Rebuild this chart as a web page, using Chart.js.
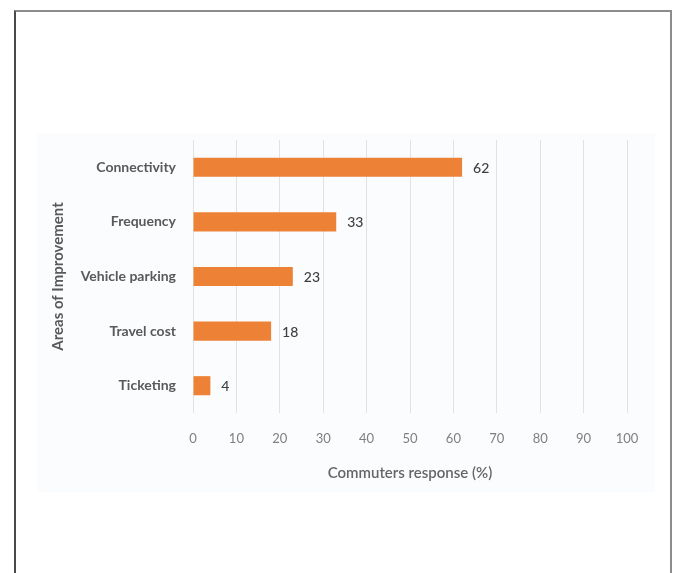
<!DOCTYPE html>
<html>
<head>
<meta charset="utf-8">
<script src="https://cdn.jsdelivr.net/npm/chart.js@4/dist/chart.umd.min.js"></script>
<style>
  html, body { margin: 0; padding: 0; background: #ffffff; }
  body { width: 677px; height: 573px; position: relative; overflow: hidden; }
  #frame {
    position: absolute; left: 14px; top: 10px; width: 654px; height: 600px;
    border-left: 2px solid #4a4a4a; border-top: 2px solid #8c8c8c; border-right: 2px solid #8c8c8c;
    box-sizing: content-box;
  }
  #panel {
    position: absolute; left: 37px; top: 133px; width: 618px; height: 359px;
    background: #fafcfd;
  }
</style>
</head>
<body>
<div id="frame"></div>
<div id="panel"><canvas id="chart"></canvas></div>
<script>
// Areas of improvement and share of commuters (%) asking for each
const categories = ['Connectivity', 'Frequency', 'Vehicle parking', 'Travel cost', 'Ticketing'];
const responses = [62, 33, 23, 18, 4];
const xTicks = [0, 10, 20, 30, 40, 50, 60, 70, 80, 90, 100];

const FONT = 'Lato, "Open Sans", sans-serif';

// Writes each bar's value just past its end
const valueLabels = {
  id: 'valueLabels',
  afterDatasetsDraw(chart) {
    const ctx = chart.ctx;
    const meta = chart.getDatasetMeta(0);
    const data = chart.data.datasets[0].data;
    ctx.save();
    ctx.font = '500 14px ' + FONT;
    ctx.fillStyle = '#404040';
    ctx.textAlign = 'left';
    ctx.textBaseline = 'middle';
    meta.data.forEach((bar, i) => {
      ctx.fillText(String(data[i]), bar.x + 11, bar.y + 1);
    });
    ctx.restore();
  }
};

new Chart(document.getElementById('chart'), {
  type: 'bar',
  data: {
    labels: categories,
    datasets: [{
      data: responses,
      backgroundColor: '#ed8236',
      borderWidth: 0,
      barPercentage: 0.35,
      categoryPercentage: 1.0
    }]
  },
  options: {
    indexAxis: 'y',
    responsive: true,
    maintainAspectRatio: false,
    animation: false,
    layout: { padding: { left: 0, top: 7, right: 28, bottom: 0 } },
    plugins: {
      legend: { display: false },
      tooltip: { enabled: false }
    },
    scales: {
      x: {
        type: 'linear',
        min: 0,
        max: 100,
        afterBuildTicks(scale) { scale.ticks = xTicks.map(v => ({ value: v })); },
        afterFit(scale) { scale.height = 79; scale.paddingLeft = 0; scale.paddingRight = 0; },
        grid: { color: '#e2e2e2', lineWidth: 1, drawTicks: false },
        border: { display: false },
        ticks: {
          padding: 18,
          color: '#7f7f7f',
          font: { family: FONT, size: 13 }
        },
        title: {
          display: true,
          text: 'Commuters response (%)',
          color: '#666666',
          font: { family: FONT, size: 15, weight: '600' },
          padding: { top: 0, bottom: 10 }
        }
      },
      y: {
        afterFit(scale) { scale.width = 156; scale.paddingTop = 0; scale.paddingBottom = 0; },
        grid: { display: false, drawTicks: false },
        border: { display: false },
        ticks: {
          padding: 17,
          color: '#595959',
          font: { family: FONT, size: 14, weight: 'bold' }
        },
        title: {
          display: true,
          text: 'Areas of Improvement',
          color: '#595959',
          font: { family: FONT, size: 15, weight: 'bold' },
          padding: { top: 12, bottom: 0 }
        }
      }
    }
  },
  plugins: [valueLabels]
});
</script>
</body>
</html>
